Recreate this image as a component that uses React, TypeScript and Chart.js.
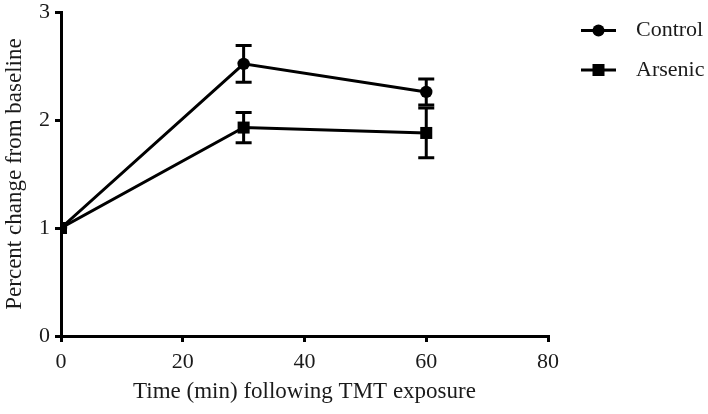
import React, { useEffect, useRef } from "react";
import { Chart, registerables } from "chart.js";

Chart.register(...registerables);

const times = [0, 30, 60];
const controlMean = [1, 2.52, 2.26];
const controlErr = [0, 0.17, 0.12];
const arsenicMean = [1, 1.93, 1.88];
const arsenicErr = [0, 0.14, 0.23];
const xTicks = [0, 20, 40, 60, 80];
const yTicks = [0, 1, 2, 3];
const seriesNames = ["Control", "Arsenic"];
const xTitle = "Time (min) following TMT exposure";
const yTitle = "Percent change from baseline";

const FONT = "'Liberation Serif', 'Times New Roman', serif";
const TEXT = "#1a1a1a";

const errorBarPlugin = {
  id: "errorBars",
  afterDatasetsDraw(chart: any) {
    const ctx = chart.ctx;
    const xs = chart.scales.x;
    const ys = chart.scales.y;
    const errs = [controlErr, arsenicErr];
    ctx.save();
    ctx.strokeStyle = "#000";
    ctx.lineWidth = 3;
    chart.data.datasets.forEach((ds: any, i: number) => {
      ds.data.forEach((p: any, j: number) => {
        const e = errs[i][j];
        if (!e) return;
        const px = xs.getPixelForValue(p.x);
        const top = ys.getPixelForValue(p.y + e);
        const bot = ys.getPixelForValue(p.y - e);
        ctx.beginPath();
        ctx.moveTo(px, top);
        ctx.lineTo(px, bot);
        ctx.moveTo(px - 8, top);
        ctx.lineTo(px + 8, top);
        ctx.moveTo(px - 8, bot);
        ctx.lineTo(px + 8, bot);
        ctx.stroke();
      });
    });
    ctx.restore();
  },
};

const legendPlugin = {
  id: "customLegend",
  afterDraw(chart: any) {
    const ctx = chart.ctx;
    ctx.save();
    const rows = [30.5, 70];
    seriesNames.forEach((name, i) => {
      const y = rows[i];
      ctx.strokeStyle = "#000";
      ctx.lineWidth = 3;
      ctx.beginPath();
      ctx.moveTo(581, y);
      ctx.lineTo(616, y);
      ctx.stroke();
      ctx.fillStyle = "#000";
      if (i === 0) {
        ctx.beginPath();
        ctx.arc(598.5, y, 6, 0, Math.PI * 2);
        ctx.fill();
      } else {
        ctx.fillRect(592.5, y - 6, 12, 12);
      }
      ctx.fillStyle = TEXT;
      ctx.font = `22px ${FONT}`;
      ctx.textBaseline = "middle";
      ctx.textAlign = "left";
      ctx.fillText(name, 636, y);
    });
    ctx.restore();
  },
};

export default function App() {
  const ref = useRef<HTMLCanvasElement | null>(null);
  useEffect(() => {
    document.body.style.margin = "0";
    if (!ref.current) return;
    const mk = (means: number[]) => means.map((m, i) => ({ x: times[i], y: m }));
    const chart = new Chart(ref.current, {
      type: "line",
      data: {
        datasets: [
          {
            label: seriesNames[0],
            data: mk(controlMean),
            borderColor: "#000",
            backgroundColor: "#000",
            borderWidth: 3,
            pointStyle: "circle",
            pointRadius: 6.2,
            pointBorderWidth: 0,
            tension: 0,
          },
          {
            label: seriesNames[1],
            data: mk(arsenicMean),
            borderColor: "#000",
            backgroundColor: "#000",
            borderWidth: 3,
            pointStyle: "rect",
            pointRadius: 8.5,
            pointBorderWidth: 0,
            tension: 0,
          },
        ],
      },
      options: {
        animation: false,
        responsive: false,
        maintainAspectRatio: false,
        layout: { padding: { left: 0, right: 160, top: 12, bottom: 0 } },
        plugins: { legend: { display: false }, tooltip: { enabled: false } },
        scales: {
          x: {
            type: "linear",
            min: 0,
            max: 80,
            afterBuildTicks: (s: any) => {
              s.ticks = xTicks.map((v) => ({ value: v }));
            },
            afterFit: (s: any) => {
              s.height = 78;
              s.paddingLeft = 0;
              s.paddingRight = 0;
            },
            grid: {
              drawOnChartArea: false,
              drawTicks: true,
              tickLength: 6,
              color: "#000",
              lineWidth: 3,
            },
            border: { display: true, color: "#000", width: 3 },
            ticks: {
              color: TEXT,
              font: { family: FONT, size: 22 },
              padding: 7,
              maxRotation: 0,
            },
            title: {
              display: true,
              text: xTitle,
              color: TEXT,
              font: { family: FONT, size: 23 },
              padding: { top: 0, bottom: 8 },
            },
          },
          y: {
            type: "linear",
            min: 0,
            max: 3,
            afterBuildTicks: (s: any) => {
              s.ticks = yTicks.map((v) => ({ value: v }));
            },
            afterFit: (s: any) => {
              s.width = 61;
              s.paddingTop = 0;
              s.paddingBottom = 0;
            },
            grid: {
              drawOnChartArea: false,
              drawTicks: true,
              tickLength: 6,
              color: "#000",
              lineWidth: 3,
            },
            border: { display: true, color: "#000", width: 3 },
            ticks: {
              color: TEXT,
              font: { family: FONT, size: 22 },
              padding: 5,
            },
            title: {
              display: true,
              text: yTitle,
              color: TEXT,
              font: { family: FONT, size: 23 },
              padding: { top: 1, bottom: 1 },
            },
          },
        },
      },
      plugins: [errorBarPlugin, legendPlugin],
    } as any);
    return () => chart.destroy();
  }, []);
  return (
    <div style={{ width: 708, height: 414, background: "#fff" }}>
      <canvas ref={ref} width={708} height={414} style={{ width: 708, height: 414, display: "block" }} />
    </div>
  );
}
